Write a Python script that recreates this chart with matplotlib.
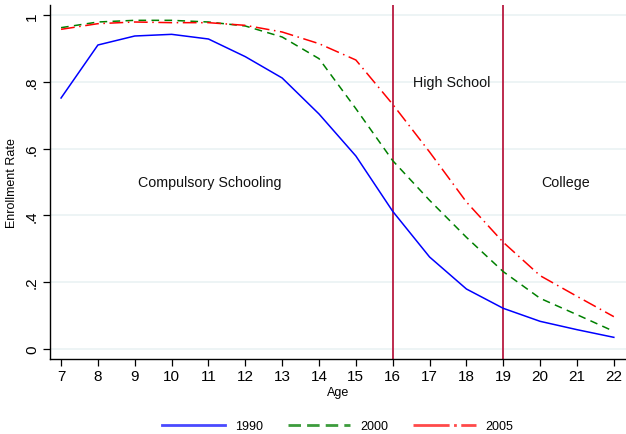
import matplotlib
matplotlib.use("Agg")
import matplotlib.pyplot as plt
from matplotlib.lines import Line2D

ages = [7, 8, 9, 10, 11, 12, 13, 14, 15, 16, 17, 18, 19, 20, 21, 22]
rate_1990 = [0.752, 0.911, 0.938, 0.943, 0.929, 0.876, 0.812, 0.704, 0.578, 0.412, 0.275, 0.179, 0.121, 0.082, 0.057, 0.034]
rate_2000 = [0.963, 0.980, 0.985, 0.985, 0.980, 0.968, 0.935, 0.870, 0.720, 0.564, 0.445, 0.334, 0.231, 0.151, 0.102, 0.052]
rate_2005 = [0.958, 0.975, 0.980, 0.978, 0.978, 0.970, 0.950, 0.915, 0.866, 0.733, 0.590, 0.440, 0.319, 0.219, 0.157, 0.096]
series_labels = ["1990", "2000", "2005"]
xticks = list(range(7, 23))
yticks = [0, 0.2, 0.4, 0.6, 0.8, 1.0]
ytick_labels = ["0", ".2", ".4", ".6", ".8", "1"]
cutoffs = [16, 19]
regions = [("Compulsory Schooling", 11.03, 0.50), ("High School", 17.6, 0.80), ("College", 20.68, 0.50)]

plt.rcParams['font.family'] = ['Liberation Sans', 'DejaVu Sans']

W, H = 626, 435
fig = plt.figure(figsize=(W / 100, H / 100), dpi=100)
ax = fig.add_axes([50 / W, 1 - 360 / H, 576 / W, 354 / H])

for yv in yticks:
    ax.axhline(yv, color="#eaf2f3", lw=1.2, zorder=0)

blue, green, red = "#0000ff", "#008000", "#ff0000"
ax.plot(ages, rate_1990, color=blue, lw=1.1, zorder=3)
ax.plot(ages, rate_2000, color=green, lw=1.1, dashes=(5, 3.5), zorder=3)
ax.plot(ages, rate_2005, color=red, lw=1.1, dashes=(9, 3, 1, 3), zorder=3)

for c in cutoffs:
    ax.axvline(c, color="#b81a40", lw=1.3, zorder=2)

for txt, xv, yv in regions:
    ax.text(xv, yv, txt, ha="center", va="center", fontsize=10.3, color="#111111")

ax.set_xlim(6.70, 22.33)
ax.set_ylim(-0.031, 1.031)
ax.set_xticks(xticks)
ax.set_xticklabels([str(a) for a in xticks], fontsize=11)
ax.set_yticks(yticks)
ax.set_yticklabels(ytick_labels, fontsize=11, rotation=90, va="center")
ax.tick_params(axis="both", direction="out", length=5, width=0.9, colors="black")
ax.tick_params(axis="x", pad=2)
ax.tick_params(axis="y", pad=3)
for s in ["top", "right"]:
    ax.spines[s].set_visible(False)
for s in ["left", "bottom"]:
    ax.spines[s].set_linewidth(1.0)

ax.set_xlabel("Age", fontsize=9, labelpad=2.5)
ax.set_ylabel("Enrollment Rate", fontsize=9, labelpad=5)

handles = [Line2D([], [], color="#4a4aff", lw=2),
           Line2D([], [], color="#3c9c3c", lw=2, dashes=(4.5, 2.2)),
           Line2D([], [], color="#ff4a4a", lw=2, dashes=(13, 1.6, 1, 1.6))]
fig.legend(handles, series_labels, loc="center", bbox_to_anchor=(338 / W, 1 - 427 / H), ncol=3,
           frameon=False, fontsize=9, handlelength=5.0, columnspacing=2.0, handletextpad=0.8)

fig.savefig("out.png", dpi=100)
